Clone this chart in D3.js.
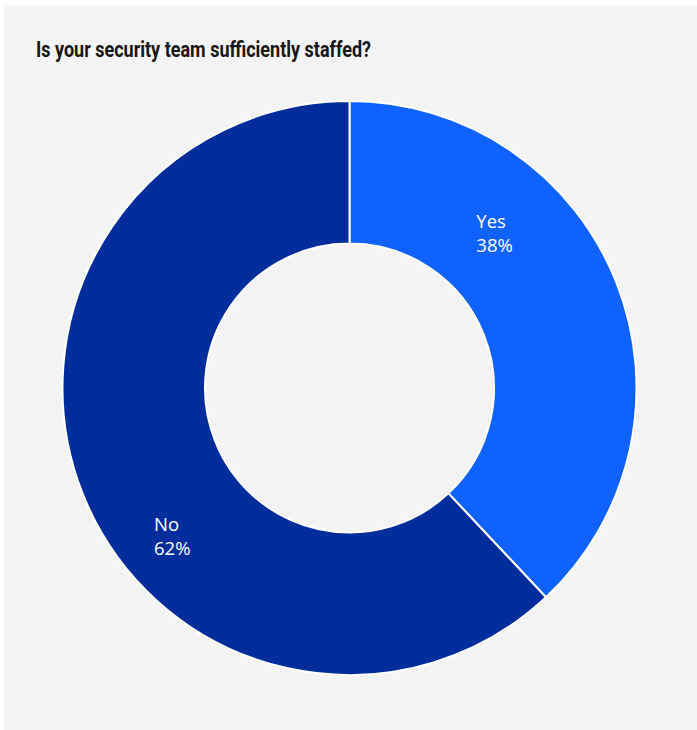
<!DOCTYPE html>
<html>
<head>
<meta charset="utf-8">
<script src="https://cdn.jsdelivr.net/npm/d3@7"></script>
<style>
  html, body { margin: 0; padding: 0; background: #ffffff; }
  svg { display: block; }
</style>
</head>
<body>
<svg id="chart" width="697" height="730"></svg>
<script>
const title = "Is your security team sufficiently staffed?";
const categories = ["Yes", "No"];
const values = [38, 62];
const colors = ["#0f62fe", "#002d9c"];

const svg = d3.select("#chart");
const W = 697, H = 730;

svg.append("rect")
  .attr("x", 4).attr("y", 5)
  .attr("width", W - 4).attr("height", H - 5)
  .attr("fill", "#f4f4f4");

svg.append("text")
  .attr("x", 36).attr("y", 56.5)
  .attr("font-family", "Roboto, 'Noto Sans', sans-serif")
  .attr("font-weight", 700)
  .attr("font-size", 22.5)
  .attr("textLength", 335)
  .attr("lengthAdjust", "spacingAndGlyphs")
  .attr("fill", "#161616")
  .text(title);

const cx = 349.5, cy = 388;
const outerR = 287, innerR = 144.5;

const data = categories.map((c, i) => ({ cat: c, value: values[i], color: colors[i] }));
const pie = d3.pie().value(d => d.value).sort(null);
const arc = d3.arc().innerRadius(innerR).outerRadius(outerR);
const arcs = pie(data);

const g = svg.append("g").attr("transform", `translate(${cx},${cy})`);

g.selectAll("path.slice")
  .data(arcs)
  .join("path")
  .attr("class", "slice")
  .attr("d", arc)
  .attr("fill", d => d.data.color)
  .attr("stroke", "#ffffff")
  .attr("stroke-width", 2);

// label placement: a point inside each slice, offset from its start angle
const labelPos = d => {
  const span = d.endAngle - d.startAngle;
  const a = d.startAngle + span * (d.index === 0 ? 0.281 : 0.435);
  const r = d.index === 0 ? 204 : 242;
  return [Math.sin(a) * r, -Math.cos(a) * r];
};

const labels = g.selectAll("g.label")
  .data(arcs)
  .join("g")
  .attr("class", "label")
  .attr("transform", d => `translate(${labelPos(d)})`);

labels.append("text")
  .attr("x", 0).attr("y", 0)
  .attr("font-family", "'Open Sans', 'Noto Sans', sans-serif")
  .attr("font-size", 18.5)
  .attr("fill", "#ffffff")
  .text(d => d.data.cat);

labels.append("text")
  .attr("x", 0).attr("y", 24)
  .attr("font-family", "'Open Sans', 'Noto Sans', sans-serif")
  .attr("font-size", 18.5)
  .attr("fill", "#ffffff")
  .text(d => d.data.value + "%");
</script>
</body>
</html>
